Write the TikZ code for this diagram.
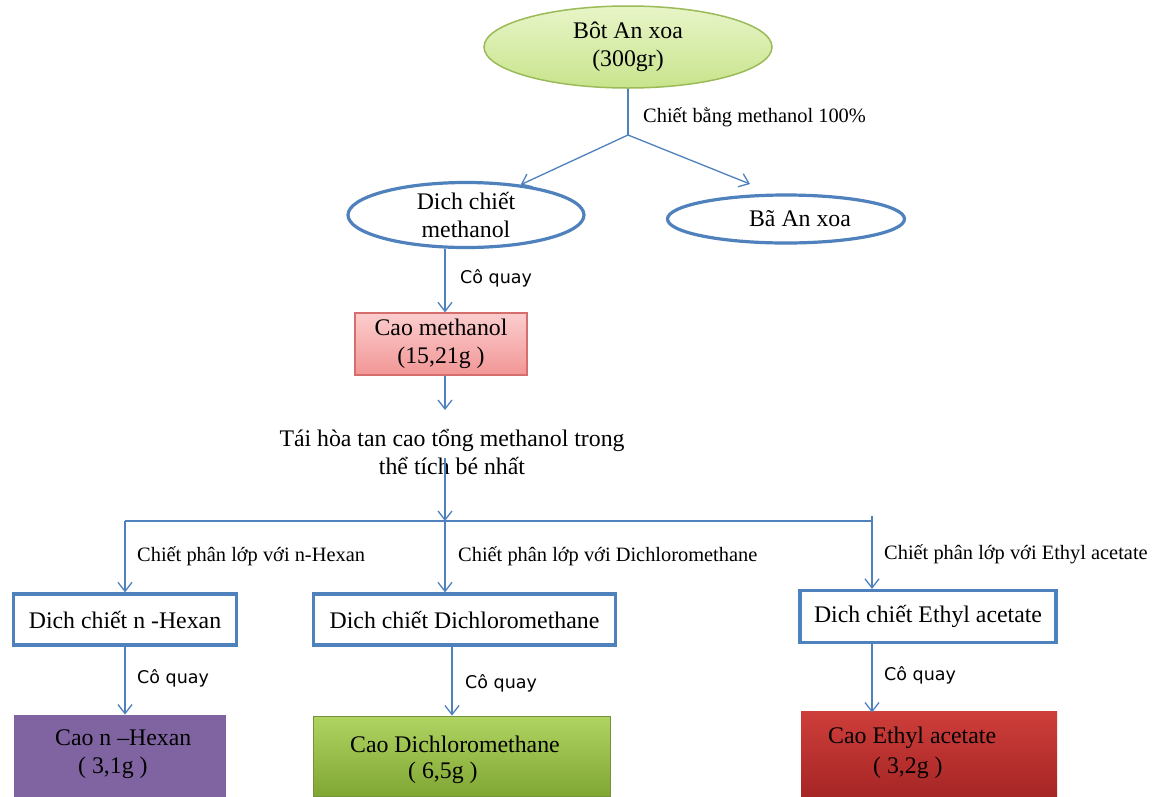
\documentclass[tikz,border=0pt]{standalone}
\usepackage{fontspec}
\setmainfont{Liberation Serif}
\newfontfamily\cofont{DejaVu Sans}
\usetikzlibrary{arrows.meta,shapes.geometric}
\definecolor{lnblue}{RGB}{79,129,189}
\definecolor{topfillA}{RGB}{232,245,200}
\definecolor{topfillB}{RGB}{200,228,140}
\definecolor{topedge}{RGB}{155,187,89}
\definecolor{pinkA}{RGB}{251,205,205}
\definecolor{pinkB}{RGB}{242,150,150}
\definecolor{pinkedge}{RGB}{214,110,110}
\definecolor{purpfill}{RGB}{128,100,162}
\definecolor{greenA}{RGB}{176,212,98}
\definecolor{greenB}{RGB}{128,166,52}
\definecolor{greenedge}{RGB}{118,146,60}
\definecolor{redA}{RGB}{206,62,58}
\definecolor{redB}{RGB}{166,38,38}
\tikzset{
  maintext/.style={font=\fontsize{23.8}{28.5}\selectfont, align=center, inner sep=0pt},
  lbltext/.style={font=\fontsize{20.4}{24}\selectfont, inner sep=0pt, anchor=west},
  cotext/.style={font=\cofont\fontsize{17.5}{20}\selectfont, inner sep=0pt, anchor=west},
  conn/.style={draw=lnblue, line width=1.3pt},
  arr/.style={conn, -{Straight Barb[length=9pt,width=14pt,line width=1.3pt]}},
  blueell/.style={ellipse, draw=lnblue, line width=3.2pt, fill=white, inner sep=0pt, maintext},
  bluebox/.style={rectangle, draw=lnblue, line width=3.2pt, fill=white, inner sep=0pt, maintext},
  caobox/.style={rectangle, inner sep=0pt, line width=0.8pt},
}
\begin{document}
\begin{tikzpicture}[x=1pt,y=-1pt]
\useasboundingbox (0,0) rectangle (1161,796);
\fill[white] (0,0) rectangle (1161,796);

% top ellipse
\node[ellipse, draw=topedge, line width=1.5pt, top color=topfillA, bottom color=topfillB,
      minimum width=288pt, minimum height=82pt, maintext] (bot) at (628,47) {Bôt An xoa\\(300gr)};
\coordinate (split) at (628,135);
\draw[conn] (bot.south) -- (split);
\node[lbltext] (lblmeoh) at (643,117) {Chiết bằng methanol 100\%};

% second row ellipses
\node[blueell, minimum width=236pt, minimum height=56pt] (dich) at (466,215) {Dich chiết\\methanol};
\node[blueell, minimum width=237pt, minimum height=48pt] (ba) at (786,219) {\hspace*{28pt}Bã An xoa};
\coordinate (baend) at (750,184);
\draw[arr] (split) -- (dich.29);
\draw[arr] (split) -- (baend);

% cao methanol
\node[rectangle, draw=pinkedge, line width=1.2pt, top color=pinkA, bottom color=pinkB,
      minimum width=172pt, minimum height=62pt, maintext] (cao) at (441,344) {Cao methanol\\(15,21g )};
\coordinate (xa) at (445,0);
\draw[arr] (dich.south -| xa) -- (cao.north -| xa);
\node[cotext] (co1) at (460,278) {Cô quay};

% re-dissolve text
\node[maintext] (tai) at (452,452) {Tái hòa tan cao tổng methanol trong\\thể tích bé nhất};
\coordinate (taitop) at (445,410);
\draw[arr] (cao.south -| xa) -- (taitop);

% distribution line
\coordinate (hub) at (445,521);
\coordinate (hl) at (125,521);
\coordinate (hr) at (872,521);
\coordinate (hrtop) at (872,516);
\draw[arr] ([yshift=-6pt]tai.center -| hub) -- (hub);
\draw[conn] (hl) -- (hr);
\draw[conn] (hrtop) -- (hr);

% extraction boxes
\node[bluebox, minimum width=223pt, minimum height=51pt] (hex) at (125,619.5) {Dich chiết n -Hexan};
\node[bluebox, minimum width=302pt, minimum height=51pt] (dcm) at (464.5,619.5) {Dich chiết Dichloromethane};
\node[bluebox, minimum width=256pt, minimum height=52pt] (ea) at (928,616.5) {Dich chiết Ethyl acetate};

\draw[arr] (hl) -- (hex.north -| hl);
\draw[arr] (hub) -- (dcm.north -| hub);
\draw[arr] (hr) -- (ea.north -| hr);

\node[lbltext] (l1) at (137,556) {Chiết phân lớp với n-Hexan};
\node[lbltext] (l2) at (458,556) {Chiết phân lớp với Dichloromethane};
\node[lbltext] (l3) at (884,554) {Chiết phân lớp với Ethyl acetate};

% final boxes
\node[caobox, fill=purpfill, minimum width=212pt, minimum height=82pt] (caohex) at (120,756) {};
\node[caobox, draw=greenedge, top color=greenA, bottom color=greenB, minimum width=297pt, minimum height=80pt] (caodcm) at (461.5,756) {};
\node[caobox, top color=redA, bottom color=redB, minimum width=256pt, minimum height=85pt] (caoea) at (929,753.5) {};

\node[maintext, anchor=west] (th1) at (55,738) {Cao n –Hexan};
\node[maintext, anchor=west] (th2) at (78,768) {( 3,1g )};
\node[maintext, anchor=west] (td1) at (350,744) {Cao Dichloromethane};
\node[maintext, anchor=west] (td2) at (408,773) {( 6,5g )};
\node[maintext, anchor=west] (te1) at (828,738) {Cao Ethyl acetate};
\node[maintext, anchor=west] (te2) at (873,768) {( 3,2g )};

\coordinate (xd) at (452,0);
\draw[arr] (hex.south) -- (hex.south |- caohex.north);
\draw[arr] (dcm.south -| xd) -- (caodcm.north -| xd);
\draw[arr] (ea.south -| hr) -- ([yshift=-2pt]caoea.north -| hr);

\node[cotext] (co2) at (137,678) {Cô quay};
\node[cotext] (co3) at (465,683) {Cô quay};
\node[cotext] (co4) at (884,675) {Cô quay};
\end{tikzpicture}
\end{document}
